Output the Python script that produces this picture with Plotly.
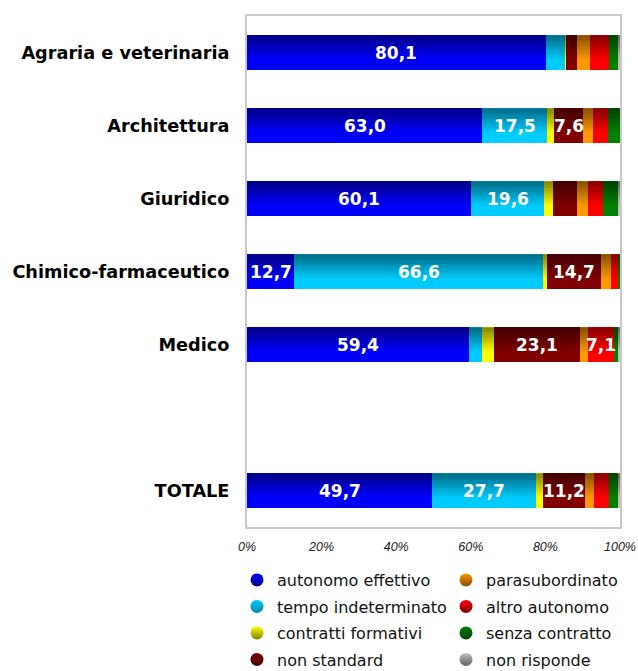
import plotly.graph_objects as go

categories = ["Agraria e veterinaria", "Architettura", "Giuridico",
              "Chimico-farmaceutico", "Medico", "TOTALE"]
positions = [0, 1, 2, 3, 4, 6]

series_names = ["autonomo effettivo", "tempo indeterminato", "contratti formativi",
                "non standard", "parasubordinato", "altro autonomo",
                "senza contratto", "non risponde"]

autonomo_effettivo = [80.1, 63.0, 60.1, 12.7, 59.4, 49.7]
tempo_indeterminato = [5.2, 17.5, 19.6, 66.6, 3.5, 27.7]
contratti_formativi = [0.1, 1.9, 2.4, 1.0, 3.4, 2.0]
non_standard = [3.1, 7.6, 6.5, 14.7, 23.1, 11.2]
parasubordinato = [3.5, 2.7, 2.7, 2.7, 1.9, 2.5]
altro_autonomo = [5.1, 4.0, 4.2, 2.0, 7.1, 4.0]
senza_contratto = [2.5, 3.3, 3.9, 0.3, 1.0, 2.4]
non_risponde = [0.4, 0.0, 0.6, 0.0, 0.6, 0.5]

series_values = [autonomo_effettivo, tempo_indeterminato, contratti_formativi,
                 non_standard, parasubordinato, altro_autonomo,
                 senza_contratto, non_risponde]

colors = ["#0000FF", "#00CCFF", "#FFFF00", "#800000",
          "#FF9900", "#FF0000", "#008000", "#C0C0C0"]
dark_colors = ["#000080", "#0088AA", "#808000", "#400000",
               "#804C00", "#800000", "#004000", "#606060"]

x_ticks = [0, 20, 40, 60, 80, 100]
x_tick_labels = ["0%", "20%", "40%", "60%", "80%", "100%"]
label_threshold = 7

W, H = 638, 671

fig = go.Figure()

for name, vals, col in zip(series_names, series_values, colors):
    fig.add_trace(go.Bar(
        y=positions, x=vals, name=name, orientation="h",
        marker=dict(color=col, line=dict(width=0)),
        showlegend=False, hoverinfo="x+name",
    ))

# legend entries as circles (off-range dummy points), split into two columns
for i, (name, col, dcol) in enumerate(zip(series_names, colors, dark_colors)):
    fig.add_trace(go.Scatter(
        x=[-50], y=[-50], mode="markers", name=name,
        legendgroup=f"g{i}",
        marker=dict(symbol="circle", size=13, color=col,
                    gradient=dict(type="vertical", color=dcol),
                    line=dict(width=0)),
        legend="legend" if i < 4 else "legend2",
        hoverinfo="skip",
    ))

bar_width = 0.475
half = bar_width / 2

# gradient shading on each bar (dark top -> bright bottom)
shapes = []
K = 14
for row_idx, p in enumerate(positions):
    total = sum(s[row_idx] for s in series_values)
    for k in range(K):
        t = (k + 0.5) / K
        op = 0.5 * max(0.0, 1 - t / 0.72)
        if op <= 0:
            continue
        y0 = p - half + k * bar_width / K
        y1 = p - half + (k + 1) * bar_width / K
        shapes.append(dict(type="rect", xref="x", yref="y",
                           x0=0, x1=total, y0=y0, y1=y1,
                           fillcolor="black", opacity=op,
                           line=dict(width=0), layer="above"))

# value labels
annotations = []
for row_idx, p in enumerate(positions):
    cum = 0.0
    for vals in series_values:
        v = vals[row_idx]
        if v >= label_threshold:
            annotations.append(dict(
                x=cum + v / 2, y=p, xref="x", yref="y",
                text=f"{v:.1f}".replace(".", ","), showarrow=False,
                font=dict(family="DejaVu Sans", size=17, color="white",
                          weight="bold"),
                xanchor="center", yanchor="middle"))
        cum += v

legend_font = dict(family="DejaVu Sans", size=16, color="#111")

fig.update_layout(
    width=W, height=H,
    margin=dict(l=247, r=18, t=16, b=144, autoexpand=False),
    barmode="stack", bargap=1 - bar_width,
    plot_bgcolor="white", paper_bgcolor="white",
    shapes=shapes, annotations=annotations,
    xaxis=dict(range=[0, 100], tickvals=x_ticks,
               ticktext=x_tick_labels,
               showgrid=False, zeroline=False,
               showline=True, mirror=True, linecolor="#C8C8C8", linewidth=2,
               ticks="outside", ticklen=7, tickcolor="rgba(0,0,0,0)",
               ticklabeloverflow="allow",
               tickfont=dict(family="Liberation Sans", size=12.5, color="#222",
                             style="italic")),
    yaxis=dict(range=[6.5, -0.5], tickvals=positions, ticktext=categories,
               showgrid=False, zeroline=False,
               showline=True, mirror=True, linecolor="#C8C8C8", linewidth=2,
               ticks="outside", ticklen=12, tickcolor="rgba(0,0,0,0)",
               tickfont=dict(family="DejaVu Sans", size=17.7, color="black",
                             weight="bold")),
    legend=dict(xref="container", yref="container",
                x=237 / W, xanchor="left",
                y=1 - 563 / H, yanchor="top",
                orientation="v", bgcolor="rgba(0,0,0,0)",
                traceorder="grouped", tracegroupgap=2.7,
                font=legend_font),
    legend2=dict(xref="container", yref="container",
                 x=446 / W, xanchor="left",
                 y=1 - 563 / H, yanchor="top",
                 orientation="v", bgcolor="rgba(0,0,0,0)",
                 traceorder="grouped", tracegroupgap=2.7,
                 font=legend_font),
)

fig.write_html("out.html",
               config={"displayModeBar": False},
               post_script="document.body.style.margin='0';"
                           "document.body.style.overflow='hidden';")
